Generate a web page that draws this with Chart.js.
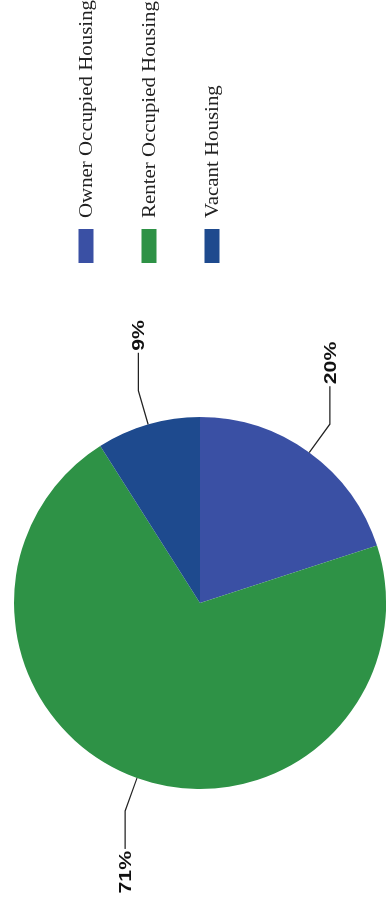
<!DOCTYPE html>
<html>
<head>
<meta charset="utf-8">
<script src="https://cdn.jsdelivr.net/npm/chart.js@4.4.1/dist/chart.umd.min.js"></script>
<style>
  html, body { margin: 0; padding: 0; background: #ffffff; overflow: hidden; }
  #page { width: 386px; height: 911px; position: relative; overflow: hidden; }
  /* the chart is laid out landscape and turned a quarter turn anticlockwise */
  #wrap {
    position: absolute; left: 0; top: 0;
    width: 911px; height: 386px;
    transform-origin: 0 0;
    transform: translate(0, 911px) rotate(-90deg);
  }
</style>
</head>
<body>
<div id="page">
  <div id="wrap"><canvas id="c" width="911" height="386"></canvas></div>
</div>
<script>
// Housing occupancy shares (percent)
const categories = ['Owner Occupied Housing', 'Renter Occupied Housing', 'Vacant Housing'];
const shares = [20, 71, 9];
const colors = ['#3a50a4', '#2e9246', '#1e4a8e'];

// Leader lines with percentage labels outside each slice
const sliceLabels = {
  id: 'sliceLabels',
  afterDatasetsDraw(chart) {
    const ctx = chart.ctx;
    const meta = chart.getDatasetMeta(0);
    const values = chart.data.datasets[0].data;
    ctx.save();
    meta.data.forEach((arc, i) => {
      const p = arc.getProps(['x', 'y', 'startAngle', 'endAngle', 'outerRadius'], true);
      const mid = (p.startAngle + p.endAngle) / 2;
      const c = Math.cos(mid), s = Math.sin(mid);
      const x1 = p.x + p.outerRadius * c, y1 = p.y + p.outerRadius * s;
      const x2 = p.x + (p.outerRadius + 35) * c, y2 = p.y + (p.outerRadius + 35) * s;
      const dir = c >= 0 ? 1 : -1;
      const x3 = x2 + dir * 38;
      ctx.strokeStyle = '#222222';
      ctx.lineWidth = 1.3;
      ctx.beginPath();
      ctx.moveTo(x1, y1);
      ctx.lineTo(x2, y2);
      ctx.lineTo(x3, y2);
      ctx.stroke();

      const sx = 1.25;
      ctx.save();
      ctx.translate(x3 + dir * 2, y2 + 1);
      ctx.scale(sx, 1);
      ctx.font = 'bold 17px "Liberation Sans", Arial, sans-serif';
      ctx.fillStyle = '#111111';
      ctx.textBaseline = 'middle';
      ctx.textAlign = dir > 0 ? 'left' : 'right';
      ctx.fillText(values[i] + '%', 0, 0);
      ctx.restore();
    });
    ctx.restore();
  }
};

// Legend drawn to the right of the pie
const sideLegend = {
  id: 'sideLegend',
  afterDraw(chart) {
    const ctx = chart.ctx;
    const labels = chart.data.labels;
    const bg = chart.data.datasets[0].backgroundColor;
    ctx.save();
    labels.forEach((label, i) => {
      const cy = 86 + 63 * i;
      ctx.fillStyle = bg[i];
      ctx.fillRect(648, cy - 7.5, 34, 15);
      ctx.save();
      ctx.translate(693, cy + 1);
      ctx.scale(1.16, 1);
      ctx.font = '18px "Liberation Serif", "Times New Roman", serif';
      ctx.fillStyle = '#222222';
      ctx.textBaseline = 'middle';
      ctx.textAlign = 'left';
      ctx.fillText(label, 0, 0);
      ctx.restore();
    });
    ctx.restore();
  }
};

new Chart(document.getElementById('c'), {
  type: 'pie',
  data: {
    labels: categories,
    datasets: [{
      data: shares,
      backgroundColor: colors,
      borderWidth: 0
    }]
  },
  options: {
    responsive: false,
    animation: false,
    rotation: 90,
    layout: { padding: { left: 122, right: 417, top: 14, bottom: 0 } },
    plugins: {
      legend: { display: false },
      tooltip: { enabled: false }
    }
  },
  plugins: [sliceLabels, sideLegend]
});
</script>
</body>
</html>
